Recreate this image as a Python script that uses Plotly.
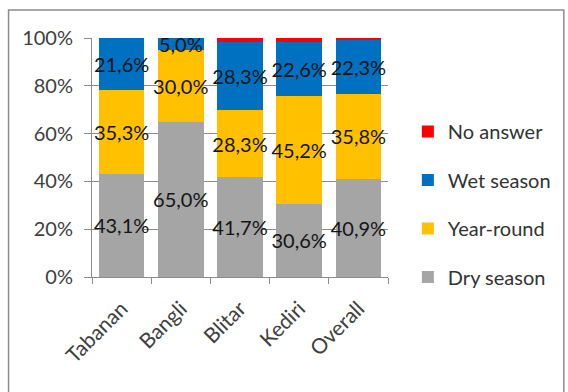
import plotly.graph_objects as go

regions = ["Tabanan", "Bangli", "Blitar", "Kediri", "Overall"]
dry_season = [43.1, 65.0, 41.7, 30.6, 40.9]
year_round = [35.3, 30.0, 28.3, 45.2, 35.8]
wet_season = [21.6, 5.0, 28.3, 22.6, 22.3]
no_answer = [0.0, 0.0, 1.7, 1.6, 1.0]

y_ticks = [0, 20, 40, 60, 80, 100]
y_tick_labels = ["0%", "20%", "40%", "60%", "80%", "100%"]

FONT = "Lato"

# (name, values, colour, show value labels, legend rank)
series = [
    ("Dry season", dry_season, "#A5A5A5", True, 4),
    ("Year-round", year_round, "#FFC000", True, 3),
    ("Wet season", wet_season, "#0070C0", True, 2),
    ("No answer", no_answer, "#FF0000", False, 1),
]

fig = go.Figure()
for i, (name, vals, color, show_text, rank) in enumerate(series):
    fig.add_trace(go.Bar(
        x=regions,
        y=vals,
        name=name,
        marker=dict(color=color, line=dict(width=0)),
        text=[f"{v:.1f}%".replace(".", ",") for v in vals] if show_text else None,
        textposition="inside" if show_text else "none",
        insidetextanchor="middle",
        textangle=0,
        constraintext="none",
        cliponaxis=False,
        textfont=dict(family=FONT, size=20, color="#141414"),
        legendgroup=f"g{i}",
        legendrank=rank,
        hoverinfo="skip",
    ))

# plot area: x 92..390 px, y 38..277 px
L, R, T, B = 92, 178, 38, 115
W, H = 568, 392
pw, ph = W - L - R, H - T - B

def px_x(x):
    return (x - L) / pw

def px_y(y):
    return (H - B - y) / ph

fig.update_layout(
    width=W, height=H,
    margin=dict(l=L, r=R, t=T, b=B),
    barmode="stack",
    bargap=0.23,
    paper_bgcolor="white",
    plot_bgcolor="white",
    font=dict(family=FONT, size=20, color="#404040"),
    showlegend=True,
    legend=dict(
        x=px_x(410), y=px_y(112), xanchor="left", yanchor="top",
        traceorder="grouped",
        tracegroupgap=19.5,
        font=dict(family=FONT, size=20, color="#333333"),
        itemwidth=30,
        bgcolor="rgba(0,0,0,0)",
    ),
    xaxis=dict(
        type="category",
        tickangle=-45,
        ticks="outside",
        tickson="boundaries",
        ticklen=6,
        tickcolor="#8c8c8c",
        ticklabelstandoff=10,
        showline=True,
        linecolor="#8c8c8c",
        linewidth=1,
        showgrid=False,
        tickfont=dict(family=FONT, size=21, color="#404040"),
    ),
    yaxis=dict(
        range=[0, 100],
        tickvals=y_ticks,
        ticktext=y_tick_labels,
        ticks="outside",
        ticklen=7,
        tickcolor="#8c8c8c",
        ticklabelstandoff=7,
        showline=True,
        linecolor="#8c8c8c",
        linewidth=1,
        showgrid=True,
        gridcolor="#8c8c8c",
        gridwidth=1,
        zeroline=False,
        tickfont=dict(family=FONT, size=20, color="#404040"),
    ),
    shapes=[dict(
        type="rect", xref="paper", yref="paper",
        x0=px_x(8), x1=px_x(567), y0=px_y(400), y1=px_y(10),
        line=dict(color="#8c8c8c", width=1.5),
        fillcolor="rgba(0,0,0,0)",
        layer="below",
    )],
)

fig.write_html("out.html")
